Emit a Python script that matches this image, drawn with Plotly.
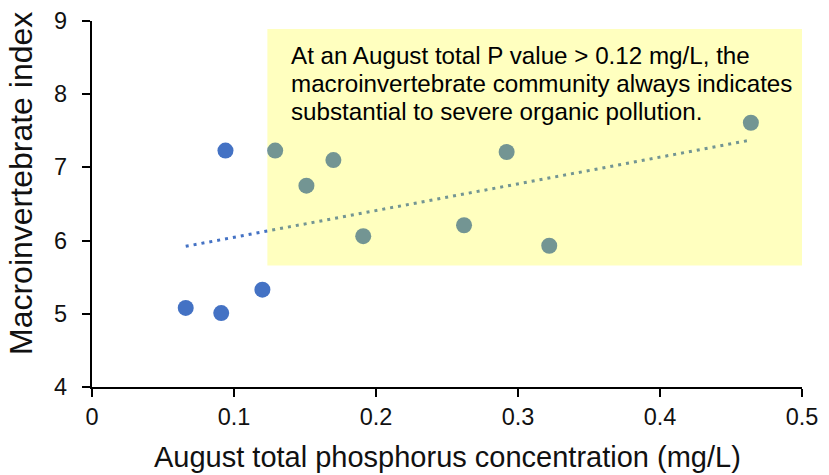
import numpy as np
import plotly.graph_objects as go

# August total phosphorus (mg/L) and macroinvertebrate index per site
phosphorus = [0.066, 0.091, 0.094, 0.120, 0.129, 0.151, 0.170, 0.191,
              0.262, 0.292, 0.322, 0.464]
macro_index = [5.08, 5.01, 7.23, 5.33, 7.23, 6.75, 7.10, 6.06,
               6.21, 7.21, 5.93, 7.61]

x_ticks = [0, 0.1, 0.2, 0.3, 0.4, 0.5]
x_tick_labels = ["0", "0.1", "0.2", "0.3", "0.4", "0.5"]
y_ticks = [4, 5, 6, 7, 8, 9]
y_tick_labels = ["4", "5", "6", "7", "8", "9"]

threshold_p = 0.1235
shade_y = [5.66, 8.89]

note_lines = [
    "At an August total P value > 0.12 mg/L, the",
    "macroinvertebrate community always indicates",
    "substantial to severe organic pollution.",
]

blue = "#4472C4"
ink = "#111111"
font = "Liberation Sans, Arial, sans-serif"

# linear trend over all sites
slope, intercept = np.polyfit(phosphorus, macro_index, 1)
trend_x = [min(phosphorus), max(phosphorus)]
trend_y = [slope * v + intercept for v in trend_x]

fig = go.Figure()
fig.add_trace(go.Scatter(
    x=trend_x, y=trend_y, mode="lines",
    line=dict(color=blue, width=3, dash="3px,5px"),
    hoverinfo="skip", showlegend=False,
))
fig.add_trace(go.Scatter(
    x=phosphorus, y=macro_index, mode="markers",
    marker=dict(color=blue, size=16, line=dict(width=0)),
    showlegend=False,
))

# translucent highlight of sites above the threshold
fig.add_shape(type="rect", xref="x", yref="y",
              x0=threshold_p, x1=0.5, y0=shade_y[0], y1=shade_y[1],
              fillcolor="rgba(255,255,0,0.25)", line=dict(width=0),
              layer="above")

# note inside the highlight, one annotation per line for tight leading
for i, line in enumerate(note_lines):
    fig.add_annotation(x=threshold_p, y=1, xref="x", yref="paper",
                       xanchor="left", yanchor="middle",
                       xshift=22, yshift=-(34 + 28 * i),
                       text=line, showarrow=False, align="left",
                       font=dict(family=font, size=24.2, color="black"))

# y tick labels set a little further from the axis than the default
for val, lab in zip(y_ticks, y_tick_labels):
    fig.add_annotation(x=0, y=val, xref="paper", yref="y",
                       xanchor="right", yanchor="middle", xshift=-23,
                       text=lab, showarrow=False,
                       font=dict(family=font, size=23.5, color=ink))

fig.add_annotation(x=0.5, y=0, xref="paper", yref="paper",
                   xanchor="center", yanchor="middle", yshift=-70,
                   text="August total phosphorus concentration (mg/L)",
                   showarrow=False,
                   font=dict(family=font, size=29, color=ink))
fig.add_annotation(x=0, y=0.5, xref="paper", yref="paper",
                   xanchor="center", yanchor="middle",
                   xshift=-71, yshift=20,
                   text="Macroinvertebrate index", textangle=-90,
                   showarrow=False,
                   font=dict(family=font, size=32, color=ink))

axis_common = dict(showline=True, linecolor="black", linewidth=2,
                   ticks="outside", ticklen=8, tickwidth=2, tickcolor="black",
                   showgrid=False, zeroline=False,
                   tickfont=dict(family=font, size=23.5, color=ink))

fig.update_xaxes(range=[0, 0.5], tickvals=x_ticks, ticktext=x_tick_labels,
                 **axis_common)
fig.update_yaxes(range=[4, 9], tickvals=y_ticks, showticklabels=False,
                 **axis_common)

fig.update_layout(
    width=829, height=475,
    margin=dict(l=92, r=27, t=21, b=88),
    plot_bgcolor="white", paper_bgcolor="white",
    font=dict(family=font),
)

fig.write_html("out.html")
